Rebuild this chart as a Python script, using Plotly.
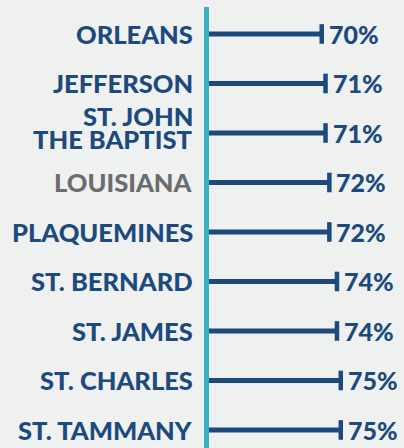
import plotly.graph_objects as go

categories = ["ORLEANS", "JEFFERSON", "ST. JOHN\nTHE BAPTIST", "LOUISIANA", "PLAQUEMINES",
              "ST. BERNARD", "ST. JAMES", "ST. CHARLES", "ST. TAMMANY"]
values = [70, 71, 71, 72, 72, 74, 74, 75, 75]
value_labels = ["70%", "71%", "71%", "72%", "72%", "74%", "74%", "75%", "75%"]
highlight = "LOUISIANA"

NAVY = "#1c4a7e"
TEAL = "#38b2c0"
GRAY = "#6b6c6e"
BG = "#eff1f1"
FONT = "Lato"

ykeys = [c.replace("\n", " ") for c in categories]

fig = go.Figure()
fig.add_trace(go.Bar(
    x=values, y=ykeys, orientation="h", width=0.1,
    marker=dict(color=NAVY, line=dict(width=0)), hoverinfo="skip",
))
fig.add_trace(go.Scatter(
    x=values, y=ykeys, mode="markers",
    marker=dict(symbol="line-ns", size=14, line=dict(color=NAVY, width=4.5)),
    hoverinfo="skip",
))

annotations = []
for cat, key, val, lab in zip(categories, ykeys, values, value_labels):
    color = GRAY if cat == highlight else NAVY
    lines = cat.split("\n")
    shifts = [0] if len(lines) == 1 else [17, -6.5]
    for line, sh in zip(lines, shifts):
        annotations.append(dict(
            x=0, xref="paper", y=key, yref="y", text=line, showarrow=False,
            xanchor="right", yanchor="middle", xshift=-14, yshift=sh,
            font=dict(family=FONT, size=25.5, color=color, weight=900),
        ))
    annotations.append(dict(
        x=val, xref="x", y=key, yref="y", text=lab, showarrow=False,
        xanchor="left", yanchor="middle", xshift=5,
        font=dict(family=FONT, size=25, color=NAVY, weight=900),
    ))

fig.update_layout(
    width=404, height=448,
    margin=dict(l=209, r=0, t=7, b=0),
    paper_bgcolor=BG, plot_bgcolor=BG,
    showlegend=False,
    annotations=annotations,
    xaxis=dict(range=[40.4, 91.6], showgrid=False, zeroline=False, showticklabels=False,
               showline=False, fixedrange=True),
    yaxis=dict(type="category", categoryorder="array", categoryarray=ykeys,
               range=[8.364, -0.545], showgrid=False, zeroline=False,
               showticklabels=False, showline=True, linecolor=TEAL, linewidth=4.5,
               fixedrange=True),
)

fig.write_html("out.html")
